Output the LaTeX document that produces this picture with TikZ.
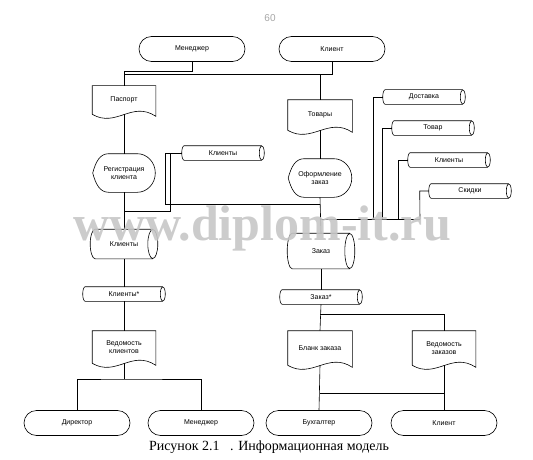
\documentclass[tikz,border=0pt]{standalone}
\usepackage{fontspec}
\setmainfont{Liberation Serif}
\newfontfamily\boxfont{Liberation Sans}
\usetikzlibrary{calc}

\tikzset{
  lbl/.style={font=\boxfont\fontsize{7}{8}\selectfont, align=center, inner sep=0pt},
  termbox/.style={lbl, draw, rounded corners=12.5, minimum width=106, minimum height=25},
  docbox/.style={lbl, minimum width=63, minimum height=30,
    append after command={
      (\tikzlastnode.south west) -- (\tikzlastnode.north west) -- (\tikzlastnode.north east)
      -- ($(\tikzlastnode.south east)+(0,2)$)
      .. controls ($(\tikzlastnode.south east)+(-24,-14)$) and ($(\tikzlastnode.south west)+(24,14)$) .. (\tikzlastnode.south west)}},
  dispbox/.style={lbl, minimum width=62, minimum height=38,
    append after command={
      (\tikzlastnode.west) .. controls ($(\tikzlastnode.west)+(3,-11)$) and ($(\tikzlastnode.north west)+(7,0)$) .. ($(\tikzlastnode.north west)+(16,0)$)
      -- ($(\tikzlastnode.north east)+(-18,0)$)
      .. controls ($(\tikzlastnode.north east)+(-8,0)$) and ($(\tikzlastnode.east)+(0,-10.5)$) .. (\tikzlastnode.east)
      .. controls ($(\tikzlastnode.east)+(0,10.5)$) and ($(\tikzlastnode.south east)+(-8,0)$) .. ($(\tikzlastnode.south east)+(-18,0)$)
      -- ($(\tikzlastnode.south west)+(16,0)$)
      .. controls ($(\tikzlastnode.south west)+(7,0)$) and ($(\tikzlastnode.west)+(3,11)$) .. (\tikzlastnode.west)}},
  drumbox/.style={lbl, minimum width=67, minimum height=#1,
    append after command={
      ($(\tikzlastnode.north west)+(5,0)$) -- ($(\tikzlastnode.north east)+(-5,0)$)
      ($(\tikzlastnode.south west)+(5,0)$) -- ($(\tikzlastnode.south east)+(-5,0)$)
      ($(\tikzlastnode.east)+(-5,0)$) ellipse [x radius=5, y radius=#1/2]
      ($(\tikzlastnode.north west)+(5,0)$) .. controls ($(\tikzlastnode.north west)+(2.24,0)$) and ($(\tikzlastnode.west)+(0,-0.276*#1)$) .. (\tikzlastnode.west)
      .. controls ($(\tikzlastnode.west)+(0,0.276*#1)$) and ($(\tikzlastnode.south west)+(2.24,0)$) .. ($(\tikzlastnode.south west)+(5,0)$)}},
  tapebox/.style={lbl, minimum width=82, minimum height=14,
    append after command={
      ($(\tikzlastnode.north west)+(2.5,0)$) -- ($(\tikzlastnode.north east)+(-2.5,0)$)
      ($(\tikzlastnode.south west)+(2.5,0)$) -- ($(\tikzlastnode.south east)+(-2.5,0)$)
      ($(\tikzlastnode.east)+(-2.5,0)$) ellipse [x radius=2.5, y radius=7]
      ($(\tikzlastnode.north west)+(2.5,0)$) .. controls ($(\tikzlastnode.north west)+(1.1,0)$) and ($(\tikzlastnode.west)+(0,-3.9)$) .. (\tikzlastnode.west)
      .. controls ($(\tikzlastnode.west)+(0,3.9)$) and ($(\tikzlastnode.south west)+(1.1,0)$) .. ($(\tikzlastnode.south west)+(2.5,0)$)}},
}

\begin{document}
\begin{tikzpicture}[x=1pt,y=1pt,yscale=-1,xscale=1,line width=0.6pt]
\useasboundingbox (0,0) rectangle (533,460);

% Text Node
\draw (270,18) node [font=\boxfont\fontsize{10}{10}\selectfont, text=gray!70] (pgnum) {60};

%Shape: Terminator
\draw (192,49) node [termbox] (mgrT) {Менеджер};
\draw (332,49) node [termbox] (cliT) {Клиент};

%Shape: Document
\draw (124,100) node [docbox, minimum height=28] (pasp) {Паспорт};
\draw (320,115) node [docbox, minimum width=64] (tov) {Товары};

%Shape: Display
\draw (124,173) node [dispbox] (reg) {Регистрация\\клиента};
\draw (320,178) node [dispbox, minimum width=63] (oform) {Оформление\\заказ};

%Shape: Tape
\draw (223,153) node [tapebox] (kl1) {Клиенты};
\draw (424,97) node [tapebox] (dost) {Доставка};
\draw (433,128) node [tapebox] (tovar) {Товар};
\draw (449,160) node [tapebox] (kl2) {Клиенты};
\draw (470,191) node [tapebox] (skid) {Скидки};

%Shape: Drum
\draw (124,244) node [drumbox=29] (klbase) {Клиенты};
\draw (321,251) node [drumbox=35] (zakbase) {Заказ};

%Shape: Tape
\draw (124,294) node [tapebox] (klstar) {Клиенты*};
\draw (321,297) node [tapebox] (zakstar) {Заказ*};

%Shape: Document
\draw (124,347) node [docbox, minimum height=32] (vedk) {Ведомость\\клиентов};
\draw (320,348) node [docbox, minimum width=64, minimum height=34] (blank) {Бланк заказа};
\draw (444,348) node [docbox, minimum height=34] (vedz) {Ведомость\\заказов};

%Shape: Terminator
\draw (77,423) node [termbox] (dir) {Директор};
\draw (201,423) node [termbox] (mgrB) {Менеджер};
\draw (319,423) node [termbox] (buh) {Бухгалтер};
\draw (444,423) node [termbox] (cliB) {Клиент};

% bus points
\coordinate (mgrbus) at (124,71);
\coordinate (topbus) at (124,74);
\coordinate (regbus) at (124,211);
\coordinate (ordin) at (320,204);
\coordinate (ordbus) at (420,219);
\coordinate (vedkbus) at (124,379);
\coordinate (zakbus) at (320,314);
\coordinate (blankbus) at (320,393);

%Straight Lines
\draw (mgrT.south) |- (mgrbus) -- (pasp.north);
\draw (cliT.south) |- (topbus);
\draw (tov.north) -- (tov.north |- topbus);
\draw (pasp.south) -- (reg.north);
\draw (reg.south) -- (klbase.north);
\draw (klbase.south) -- (klstar.north);
\draw (klstar.south) -- (vedk.north);
\draw (kl1.west) -- ++(-16,0) |- (ordin);
\draw (kl1.west) -- ++(-11,0) |- (regbus);
\draw (tov.south) -- (oform.north);
\draw (oform.south) -- (zakbase.north);
\draw (zakbase.south) -- (zakstar.north);
\draw (dost.west) -- ++(-9,0) |- (ordbus);
\draw (tovar.west) -- ++(-9,0) |- (ordbus);
\draw (kl2.west) -- ++(-9,0) |- (ordbus);
\draw (skid.west) -- ++(-9,0) -- (ordbus);
\draw (ordbus) -- (ordbus -| oform.south);
\draw (vedk.south) -- (vedkbus);
\draw (dir.north) |- (vedkbus) -| (mgrB.north);
\draw (zakstar.south) -- (blank.north);
\draw (zakbus) -| (vedz.north);
\draw (blank.south) -- (buh.north);
\draw (blankbus) -| (vedz.south);
\draw (vedz.south) -- (cliB.north);

% Text Node
\draw (262,240) node [anchor=base, font=\bfseries\fontsize{50}{50}\selectfont, text=gray!45, text opacity=0.9] (wmark) {www.diplom-it.ru};
% Text Node
\draw (269,447) node [font=\fontsize{14}{14}\selectfont] (capt) {Рисунок 2.1\ \ \ . Информационная модель};

\end{tikzpicture}
\end{document}
